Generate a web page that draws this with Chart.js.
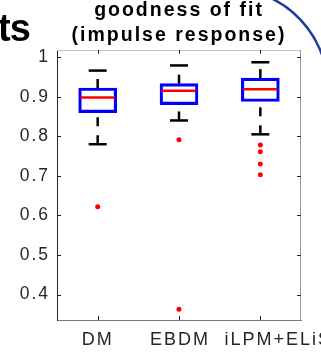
<!DOCTYPE html>
<html>
<head>
<meta charset="utf-8">
<script src="https://cdn.jsdelivr.net/npm/chart.js@4"></script>
<style>
  body { margin: 0; background: #fff; }
  #wrap { position: relative; width: 321px; height: 354px; }
</style>
</head>
<body>
<div id="wrap"><canvas id="myChart"></canvas></div>
<script>
// box plot values
const categories = ['DM', 'EBDM', 'iLPM+ELiS'];
const upperWhisker = [0.966, 0.979, 0.987];
const q3 = [0.922, 0.933, 0.947];
const median = [0.898, 0.915, 0.919];
const q1 = [0.860, 0.880, 0.888];
const lowerWhisker = [0.780, 0.840, 0.805];
const outlierCats = ['DM', 'EBDM', 'EBDM', 'iLPM+ELiS', 'iLPM+ELiS', 'iLPM+ELiS', 'iLPM+ELiS'];
const outlierVals = [0.622, 0.791, 0.363, 0.778, 0.761, 0.730, 0.703];
const yTicks = [0.4, 0.5, 0.6, 0.7, 0.8, 0.9, 1];
const titleLines = ['goodness of fit', '(impulse response)'];

// the last label is not centred on its tick in the original
const labelShift = [-1, 0, 17];

function line(ctx, x1, y1, x2, y2) {
    ctx.beginPath();
    ctx.moveTo(x1, y1);
    ctx.lineTo(x2, y2);
    ctx.stroke();
}

const boxExtras = {
    id: 'boxExtras',
    beforeDraw(chart) {
        chart.ctx.letterSpacing = '2px';
    },
    afterDatasetsDraw(chart) {
        const ctx = chart.ctx;
        const a = chart.chartArea;
        const x = chart.scales.x;
        const y = chart.scales.y;
        ctx.save();
        categories.forEach((c, i) => {
            const px = x.getPixelForValue(i);
            // whiskers (dashed, drawn upward from the lower value)
            ctx.strokeStyle = '#000';
            ctx.lineWidth = 2.5;
            ctx.setLineDash([9, 9]);
            line(ctx, px, y.getPixelForValue(lowerWhisker[i]), px, y.getPixelForValue(q1[i]));
            line(ctx, px, y.getPixelForValue(q3[i]), px, y.getPixelForValue(upperWhisker[i]));
            ctx.setLineDash([]);
            // caps
            line(ctx, px - 9, y.getPixelForValue(upperWhisker[i]), px + 9, y.getPixelForValue(upperWhisker[i]));
            line(ctx, px - 9, y.getPixelForValue(lowerWhisker[i]), px + 9, y.getPixelForValue(lowerWhisker[i]));
            // median
            ctx.strokeStyle = '#ff0000';
            line(ctx, px - 17, y.getPixelForValue(median[i]), px + 17, y.getPixelForValue(median[i]));
        });

        // frame: top and right light, ticks pointing in
        ctx.lineWidth = 1;
        ctx.strokeStyle = '#c4c4c4';
        line(ctx, a.left, a.top + 0.5, a.right, a.top + 0.5);
        ctx.strokeStyle = '#9a9a9a';
        line(ctx, a.right - 0.5, a.top, a.right - 0.5, a.bottom);
        ctx.strokeStyle = '#262626';
        yTicks.forEach(v => {
            const py = Math.round(y.getPixelForValue(v)) + 0.5;
            line(ctx, a.left, py, a.left + 4, py);
            line(ctx, a.right, py, a.right - 4, py);
        });
        categories.forEach((c, i) => {
            const px = Math.round(x.getPixelForValue(i)) + 0.5;
            line(ctx, px, a.bottom, px, a.bottom - 4);
            line(ctx, px, a.top, px, a.top + 4);
        });
        ctx.restore();
    },
    afterDraw(chart) {
        const ctx = chart.ctx;
        const a = chart.chartArea;
        const x = chart.scales.x;
        ctx.save();
        // category labels
        ctx.font = '18px "Liberation Sans"';
        ctx.fillStyle = '#262626';
        ctx.textAlign = 'center';
        ctx.textBaseline = 'alphabetic';
        categories.forEach((c, i) => {
            ctx.fillText(c, x.getPixelForValue(i) + labelShift[i] + 1, a.bottom + 25);
        });
        // piece of the neighbouring panel
        ctx.textAlign = 'left';
        ctx.letterSpacing = '-1px';
        ctx.font = 'bold 38px "Liberation Sans"';
        ctx.fillStyle = '#000';
        ctx.fillText('ts', -2, 41);
        ctx.strokeStyle = '#1f3c9c';
        ctx.lineWidth = 2.5;
        ctx.beginPath();
        ctx.arc(227, 89, 101, -1.15, -0.15);
        ctx.stroke();
        ctx.restore();
    }
};

const ctx = document.getElementById('myChart').getContext('2d');
Chart.defaults.font.family = '"Liberation Sans", Arial, sans-serif';

const myChart = new Chart(ctx, {
    type: 'bar',
    data: {
        labels: categories,
        datasets: [{
            label: 'box',
            data: q1.map((v, i) => [v, q3[i]]),
            backgroundColor: 'rgba(255,255,255,0)',
            borderColor: '#0000ff',
            borderWidth: 2.5,
            borderSkipped: false,
            barThickness: 38
        }, {
            type: 'line',
            label: 'outliers',
            data: outlierCats.map((c, i) => ({ x: c, y: outlierVals[i] })),
            showLine: false,
            pointRadius: 2.5,
            pointBackgroundColor: '#ff0000',
            pointBorderWidth: 0
        }]
    },
    options: {
        responsive: true,
        maintainAspectRatio: false,
        devicePixelRatio: 1,
        animation: false,
        layout: { padding: { left: 0, right: 20, top: -2, bottom: 0 } },
        plugins: {
            legend: { display: false },
            tooltip: { enabled: false },
            title: {
                display: true,
                fullSize: false,
                text: titleLines,
                color: '#000',
                font: { size: 19.5, weight: 'bold', lineHeight: '25px' },
                padding: { top: 0, bottom: 2 }
            }
        },
        scales: {
            x: {
                type: 'category',
                grid: { display: false, drawTicks: false },
                border: { color: '#7a7a7a', width: 1 },
                ticks: { display: false },
                afterFit(scale) {
                    scale.height = 34;
                    scale.paddingLeft = 0;
                    scale.paddingRight = 0;
                }
            },
            y: {
                min: 0.336,
                max: 1.018,
                grid: { display: false, drawTicks: false },
                border: { color: '#262626', width: 1 },
                ticks: {
                    color: '#262626',
                    font: { size: 17.5 },
                    padding: 7,
                    callback: v => String(Math.round(v * 10) / 10)
                },
                afterBuildTicks(scale) {
                    scale.ticks = yTicks.map(v => ({ value: v }));
                },
                afterFit(scale) {
                    scale.width = 57;
                    scale.paddingTop = 0;
                    scale.paddingBottom = 0;
                }
            }
        }
    },
    plugins: [boxExtras]
});
</script>
</body>
</html>
